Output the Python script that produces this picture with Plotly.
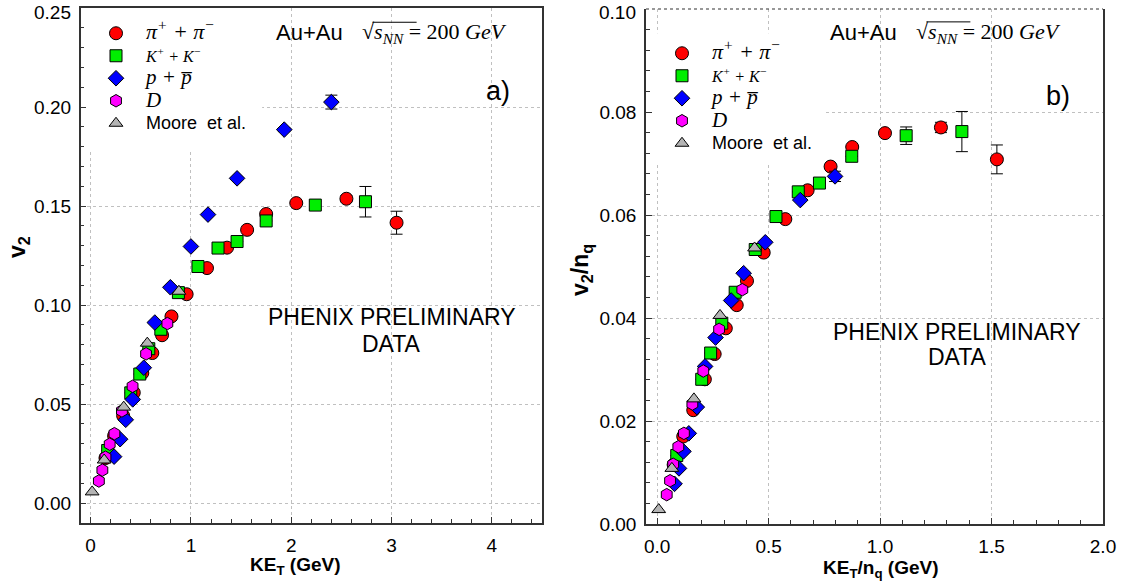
import plotly.graph_objects as go

# ---------------- data: panel a) v2 vs KE_T ----------------
pi_ket = [0.148, 0.234, 0.324, 0.43, 0.515, 0.615, 0.712, 0.806, 0.957, 1.16, 1.36, 1.56, 1.75, 2.05, 2.55, 3.05]
pi_v2 = [0.0228, 0.0340, 0.0442, 0.0558, 0.0657, 0.0758, 0.0848, 0.0943, 0.1055, 0.1187, 0.1290, 0.1380, 0.1460, 0.1515, 0.1537, 0.1416]
pi_err = [None] * 14 + [0.0015, 0.0058]

k_ket = [0.17, 0.40, 0.49, 0.58, 0.70, 0.875, 1.07, 1.27, 1.46, 1.75, 2.24, 2.74]
k_v2 = [0.0266, 0.0557, 0.0652, 0.0780, 0.0878, 0.1063, 0.1195, 0.1288, 0.1321, 0.1425, 0.1505, 0.1522]
k_err = [None] * 10 + [0.0020, 0.0077]

p_ket = [0.234, 0.294, 0.350, 0.420, 0.530, 0.640, 0.795, 1.00, 1.17, 1.46, 1.93, 2.40]
p_v2 = [0.0235, 0.0323, 0.0421, 0.0524, 0.0684, 0.0912, 0.1090, 0.1296, 0.1457, 0.1640, 0.1886, 0.2025]
p_err = [None] * 10 + [0.0010, 0.0035]

d_ket = [0.082, 0.117, 0.148, 0.19, 0.237, 0.312, 0.418, 0.553, 0.765]
d_v2 = [0.0112, 0.0167, 0.0232, 0.0298, 0.0351, 0.0466, 0.0590, 0.0754, 0.0907]

m_ket = [0.015, 0.135, 0.33, 0.565, 0.88]
m_v2 = [0.0057, 0.0218, 0.0485, 0.0808, 0.1070]

# ---------------- data: panel b) v2/nq vs KE_T/nq ----------------
pi_ketn = [0.074, 0.117, 0.162, 0.214, 0.258, 0.308, 0.357, 0.403, 0.478, 0.575, 0.675, 0.778, 0.875, 1.022, 1.273, 1.524]
pi_v2n = [0.0115, 0.0170, 0.0221, 0.0281, 0.0330, 0.0380, 0.0425, 0.0472, 0.0527, 0.0592, 0.0648, 0.0694, 0.0732, 0.0759, 0.0770, 0.0708]
pi_errn = [None] * 14 + [0.0010, 0.0028]

k_ketn = [0.088, 0.20, 0.24, 0.29, 0.35, 0.44, 0.533, 0.633, 0.728, 0.873, 1.117, 1.367]
k_v2n = [0.0133, 0.0281, 0.0332, 0.0390, 0.0450, 0.0533, 0.0597, 0.0645, 0.0662, 0.0714, 0.0754, 0.0762]
k_errn = [None] * 10 + [0.0017, 0.0039]

p_ketn = [0.078, 0.098, 0.118, 0.142, 0.178, 0.215, 0.262, 0.332, 0.388, 0.485, 0.642, 0.798]
p_v2n = [0.0078, 0.0108, 0.0141, 0.0176, 0.0227, 0.0306, 0.0362, 0.0434, 0.0487, 0.0547, 0.0629, 0.0675]
p_errn = [None] * 11 + [0.0010]

d_ketn = [0.043, 0.058, 0.072, 0.095, 0.120, 0.158, 0.207, 0.278, 0.382]
d_v2n = [0.0057, 0.0084, 0.0116, 0.0150, 0.0176, 0.0233, 0.0297, 0.0378, 0.0455]

m_ketn = [0.007, 0.066, 0.165, 0.282, 0.437]
m_v2n = [0.0028, 0.0108, 0.0243, 0.0405, 0.0536]

# tick labels
ya_ticks = [0.0, 0.05, 0.10, 0.15, 0.20, 0.25]
xa_ticks = [0, 1, 2, 3, 4]
yb_ticks = [0.0, 0.02, 0.04, 0.06, 0.08, 0.10]
xb_ticks = [0.0, 0.5, 1.0, 1.5, 2.0]

names = [
    "<span style='font-size:22px'>π<sup>+</sup> + π<sup>−</sup></span>",
    "<span style='font-size:16px'>K<sup>+</sup> + K<sup>−</sup></span>",
    "<span style='font-size:21px'>p + p\u0305</span>",
    "<span style='font-size:21px'>D</span>",
    "<span style='font-family:Liberation Sans;font-style:normal;font-size:18px'>Moore&nbsp; et al.</span>",
]
colors = ["#ff0000", "#00ee00", "#0000ff", "#ff00ff", "#b4b4b4"]
symbols = ["circle", "square", "diamond", "hexagon", "triangle-up"]
sizes = [13, 12, 12, 12.5, 12]

W, H = 1125, 588
# plot-area frame in pixels (left, right, top, bottom)
A_L, A_R, A_T, A_B = 80.6, 542, 8, 523
B_L, B_R, B_T, B_B = 646, 1103, 9, 524

fig = go.Figure()

sets_a = [(pi_ket, pi_v2, pi_err), (k_ket, k_v2, k_err), (p_ket, p_v2, p_err),
          (d_ket, d_v2, None), (m_ket, m_v2, None)]
sets_b = [(pi_ketn, pi_v2n, pi_errn), (k_ketn, k_v2n, k_errn), (p_ketn, p_v2n, p_errn),
          (d_ketn, d_v2n, None), (m_ketn, m_v2n, None)]

for panel, sets in (("a", sets_a), ("b", sets_b)):
    for i, (xs, ys, err) in enumerate(sets):
        tr = dict(
            x=xs, y=ys, mode="markers", name=names[i],
            marker=dict(symbol=symbols[i], size=sizes[i], color=colors[i],
                        line=dict(color="black", width=1)),
            xaxis="x" if panel == "a" else "x2",
            yaxis="y" if panel == "a" else "y2",
            legend="legend" if panel == "a" else "legend2",
        )
        if err is not None:
            tr["error_y"] = dict(type="data", array=err, color="black", thickness=1, width=6, visible=True)
        fig.add_trace(go.Scatter(**tr))

def px_x(p):
    return p / W

def px_y(p):
    return 1 - p / H

tickfont = dict(family="Liberation Sans", size=19, color="black")
common_ax = dict(showline=True, linecolor="#333333", linewidth=1.5, ticks="inside", ticklen=6,
                 tickcolor="#333333", tickfont=tickfont, showgrid=True, gridcolor="#c0c0c0",
                 griddash="dot", gridwidth=1, zeroline=False, automargin=False)
minor_common = dict(ticks="inside", ticklen=4, tickcolor="#333333", showgrid=False)

fig.update_layout(
    width=W, height=H, margin=dict(l=0, r=0, t=0, b=0),
    paper_bgcolor="white", plot_bgcolor="white", showlegend=True,
    xaxis=dict(domain=[px_x(A_L), px_x(A_R)], range=[-0.1, 4.5], tickvals=xa_ticks,
               ticktext=[str(v) for v in xa_ticks], mirror=True, anchor="y", ticklabelstandoff=4,
               minor=dict(dtick=0.2, tick0=0, **minor_common), **common_ax),
    yaxis=dict(domain=[px_y(A_B), px_y(A_T)], range=[-0.01, 0.25], tickvals=ya_ticks,
               ticktext=[f"{v:.2f}" if v < 0.24 else "" for v in ya_ticks], mirror=True, anchor="x",
               ticklabelstandoff=4,
               minor=dict(dtick=0.01, tick0=0, **minor_common), **common_ax),
    xaxis2=dict(domain=[px_x(B_L), px_x(B_R)], range=[-0.05, 2.0], tickvals=xb_ticks,
                ticktext=[f"{v:.1f}" for v in xb_ticks], mirror=False, anchor="y2", ticklabelstandoff=4,
                minor=dict(dtick=0.1, tick0=0, **minor_common), **common_ax),
    yaxis2=dict(domain=[px_y(B_B), px_y(B_T)], range=[0, 0.10], tickvals=yb_ticks,
                ticktext=[f"{v:.2f}" if v < 0.095 else "" for v in yb_ticks], mirror=True, anchor="x2",
                ticklabelstandoff=4,
                minor=dict(dtick=0.004, tick0=0, **minor_common), **common_ax),
    legend=dict(x=px_x(86), y=px_y(17), xanchor="left", yanchor="top", bgcolor="rgba(0,0,0,0)",
                font=dict(family="Liberation Serif", size=15, color="black", style="italic"),
                itemwidth=50, tracegroupgap=0),
    legend2=dict(x=px_x(652), y=px_y(37), xanchor="left", yanchor="top", bgcolor="rgba(0,0,0,0)",
                 font=dict(family="Liberation Serif", size=15, color="black", style="italic"),
                 itemwidth=50, tracegroupgap=0),
)

# white boxes hiding the grid behind the legends
fig.add_shape(type="rect", xref="x", yref="y", x0=-0.1, x1=1.71, y0=0.178, y1=0.25,
              fillcolor="white", line=dict(width=0), layer="between")
fig.add_shape(type="rect", xref="x2", yref="y2", x0=-0.05, x1=0.752, y0=0.0697, y1=0.0953,
              fillcolor="white", line=dict(width=0), layer="between")
# dotted top frame of panel b
fig.add_shape(type="line", xref="x2 domain", yref="y2 domain", x0=0, x1=1, y0=1, y1=1,
              line=dict(color="#333333", width=1.2, dash="dot"))

sans = "Liberation Sans"
serif = "Liberation Serif"
formula = "√<i>s</i><sub><i>NN</i></sub> = 200 <i>GeV</i>"

# top tick labels (kept inside the page)
fig.add_annotation(xref="paper", yref="paper", x=px_x(A_L - 8), y=1, text=f"{ya_ticks[-1]:.2f}",
                   xanchor="right", yanchor="top", showarrow=False, font=tickfont)
fig.add_annotation(xref="paper", yref="paper", x=px_x(B_L - 8), y=1, text=f"{yb_ticks[-1]:.2f}",
                   xanchor="right", yanchor="top", showarrow=False, font=tickfont)

# panel a texts (data coordinates)
fig.add_annotation(xref="x", yref="y", x=1.83, y=0.2374, text="Au+Au", xanchor="left", yanchor="middle",
                   showarrow=False, font=dict(family=sans, size=22, color="black"))
fig.add_annotation(xref="x", yref="y", x=2.69, y=0.2374, text=formula, xanchor="left", yanchor="middle",
                   showarrow=False, font=dict(family=serif, size=22, color="black"))
fig.add_shape(type="line", xref="x", yref="y", x0=2.81, x1=3.25, y0=0.2428, y1=0.2428,
              line=dict(color="black", width=1))
fig.add_annotation(xref="x", yref="y", x=4.06, y=0.208, text="a)", xanchor="center", yanchor="middle",
                   showarrow=False, font=dict(family=sans, size=27, color="black"))
fig.add_annotation(xref="x", yref="y", x=3.0, y=0.0938, text="PHENIX PRELIMINARY",
                   xanchor="center", yanchor="middle", showarrow=False,
                   font=dict(family=sans, size=23, color="black"))
fig.add_annotation(xref="x", yref="y", x=3.0, y=0.0806, text="DATA",
                   xanchor="center", yanchor="middle", showarrow=False,
                   font=dict(family=sans, size=23, color="black"))

# panel b texts
fig.add_annotation(xref="x2", yref="y2", x=0.768, y=0.0954, text="Au+Au", xanchor="left", yanchor="middle",
                   showarrow=False, font=dict(family=sans, size=22, color="black"))
fig.add_annotation(xref="x2", yref="y2", x=1.154, y=0.0954, text=formula, xanchor="left", yanchor="middle",
                   showarrow=False, font=dict(family=serif, size=22, color="black"))
fig.add_shape(type="line", xref="x2", yref="y2", x0=1.208, x1=1.405, y0=0.0975, y1=0.0975,
              line=dict(color="black", width=1))
fig.add_annotation(xref="x2", yref="y2", x=1.80, y=0.0831, text="b)", xanchor="center", yanchor="middle",
                   showarrow=False, font=dict(family=sans, size=27, color="black"))
fig.add_annotation(xref="x2", yref="y2", x=1.345, y=0.0373, text="PHENIX PRELIMINARY",
                   xanchor="center", yanchor="middle", showarrow=False,
                   font=dict(family=sans, size=23, color="black"))
fig.add_annotation(xref="x2", yref="y2", x=1.347, y=0.0324, text="DATA",
                   xanchor="center", yanchor="middle", showarrow=False,
                   font=dict(family=sans, size=23, color="black"))

# axis titles
titles = [
    dict(x=px_x(19), y=px_y(247), text="<b>v<sub>2</sub></b>", textangle=-90, font=dict(family=sans, size=23, color="black")),
    dict(x=px_x(295), y=px_y(566), text="<b>KE<sub>T</sub> (GeV)</b>", font=dict(family=sans, size=19, color="black")),
    dict(x=px_x(581), y=px_y(270), text="<b>v<sub>2</sub>/n<sub>q</sub></b>", textangle=-90, font=dict(family=sans, size=23, color="black")),
    dict(x=px_x(881), y=px_y(569), text="<b>KE<sub>T</sub>/n<sub>q</sub> (GeV)</b>", font=dict(family=sans, size=19, color="black")),
]
for a in titles:
    fig.add_annotation(xref="paper", yref="paper", showarrow=False, xanchor="center", yanchor="middle", **a)

fig.write_html("out.html", config={"displayModeBar": False},
               post_script="document.body.style.margin='0';document.body.style.overflow='hidden';")
